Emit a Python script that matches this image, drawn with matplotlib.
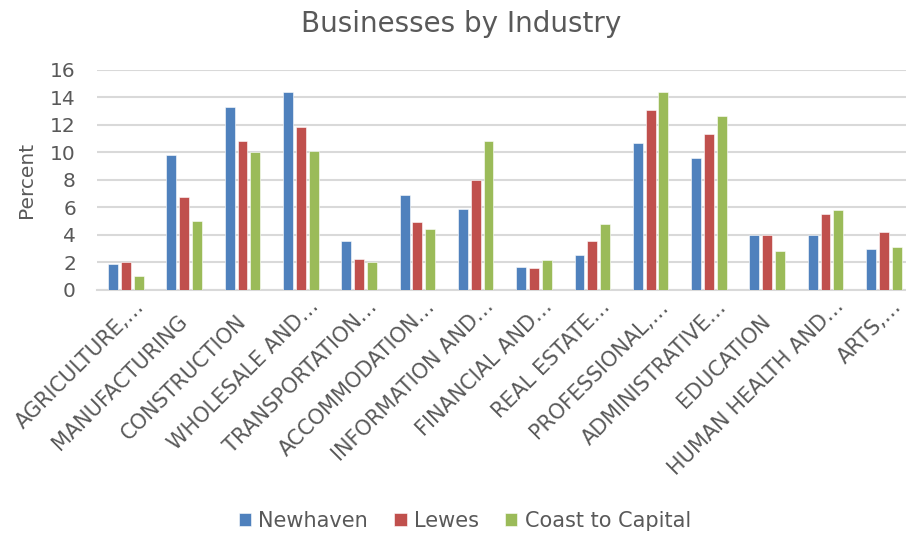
import matplotlib
matplotlib.use("Agg")
import matplotlib.pyplot as plt
import numpy as np
from matplotlib.transforms import ScaledTranslation

categories = ["AGRICULTURE,…", "MANUFACTURING", "CONSTRUCTION", "WHOLESALE AND…",
              "TRANSPORTATION…", "ACCOMMODATION…", "INFORMATION AND…", "FINANCIAL AND…",
              "REAL ESTATE…", "PROFESSIONAL,…", "ADMINISTRATIVE…", "EDUCATION",
              "HUMAN HEALTH AND…", "ARTS,…"]
newhaven = [1.9, 9.8, 13.25, 14.37, 3.56, 6.9, 5.9, 1.65, 2.57, 10.7, 9.57, 4.0, 4.0, 3.0]
lewes = [2.0, 6.75, 10.83, 11.82, 2.23, 4.9, 7.97, 1.58, 3.54, 13.1, 11.3, 3.97, 5.5, 4.24]
coast = [1.02, 5.02, 10.0, 10.08, 2.03, 4.39, 10.78, 2.18, 4.81, 14.35, 12.65, 2.81, 5.77, 3.1]
series_names = ["Newhaven", "Lewes", "Coast to Capital"]
colors = ["#4F81BD", "#C0504D", "#9BBB59"]
yticks = [0, 2, 4, 6, 8, 10, 12, 14, 16]

text_color = "#595959"
plt.rcParams['font.family'] = ['DejaVu Sans']

fig = plt.figure(figsize=(9.06, 5.35), dpi=100)
ax = fig.add_axes([0.1068, 0.458, 0.9009, 0.412])

x = np.arange(len(categories))
width = 0.17
offset = 0.22
for i, (vals, name, col) in enumerate(zip([newhaven, lewes, coast], series_names, colors)):
    ax.bar(x + (i - 1) * offset, vals, width, color=col, label=name,
           edgecolor="white", linewidth=0.4, zorder=3)

ax.set_xlim(-0.5, len(categories) - 0.5)
ax.set_ylim(0, 16)
ax.set_yticks(yticks)
ax.set_yticklabels([str(t) for t in yticks], fontsize=14.5, color=text_color)
ax.yaxis.grid(True, color="#D9D9D9", linewidth=1.5, zorder=0)
ax.set_axisbelow(True)
for s in ["top", "right", "left"]:
    ax.spines[s].set_visible(False)
ax.spines["bottom"].set_color("#D9D9D9")
ax.spines["bottom"].set_linewidth(1.5)

ax.tick_params(axis="x", length=0)
ax.tick_params(axis="y", length=0, pad=15)

ax.set_xticks(x)
ax.set_xticklabels(categories, rotation=45, ha="right", va="top",
                   rotation_mode="anchor", fontsize=15, color=text_color)
for lab in ax.get_xticklabels():
    if lab.get_text().endswith("…"):
        shift = ScaledTranslation(0.075, -0.015, fig.dpi_scale_trans)
    else:
        shift = ScaledTranslation(-0.07, -0.16, fig.dpi_scale_trans)
    lab.set_transform(lab.get_transform() + shift)

ax.set_ylabel("Percent", fontsize=14.5, color=text_color)
ax.yaxis.set_label_coords(-0.074, 0.5)
fig.text(0.509, 0.955, "Businesses by Industry", ha="center", va="center",
         fontsize=20, color=text_color)

leg = fig.legend(loc="center", bbox_to_anchor=(0.513, 0.026), ncol=3, frameon=False,
                 fontsize=15, handlelength=0.6, handleheight=0.6, handletextpad=0.35,
                 columnspacing=1.25)
for t in leg.get_texts():
    t.set_color(text_color)

fig.savefig("out.png", dpi=100)
